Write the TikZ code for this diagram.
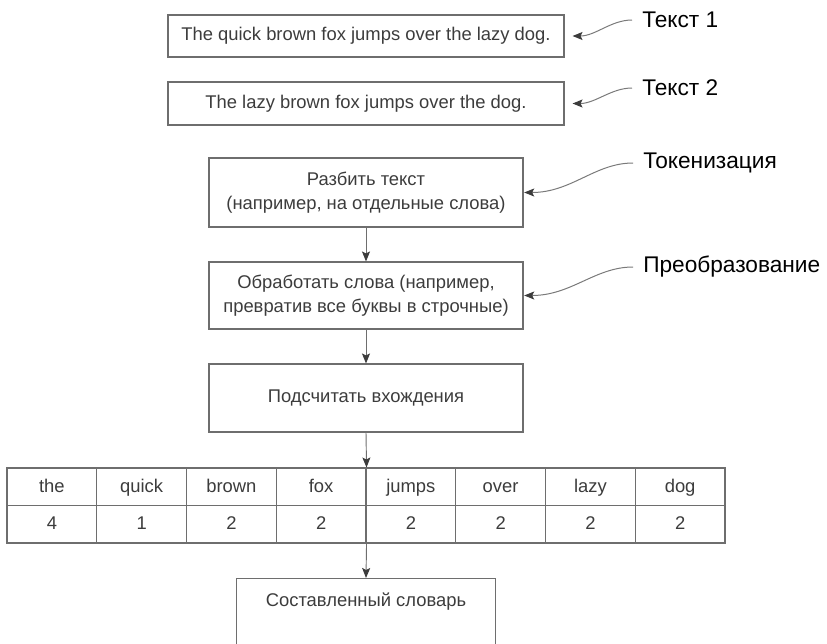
\documentclass[tikz,border=0pt]{standalone}
\usepackage{fontspec}
\setmainfont{Liberation Sans}
\usetikzlibrary{arrows.meta}
\definecolor{edge}{HTML}{6E6E6E}
\definecolor{ink}{HTML}{3C3C3C}
\definecolor{wire}{HTML}{7A7A7A}
\begin{document}
\begin{tikzpicture}[x=0.75pt,y=-0.75pt,
  box/.style={draw=edge, line width=0.8pt, rectangle, inner sep=0pt, text=ink,
    font=\fontsize{13.8}{18}\selectfont, align=center},
  cell/.style={box, minimum width=67.3125pt, minimum height=28.125pt,
    text height=10pt, text depth=1.5pt},
  tag/.style={anchor=west, inner sep=0pt, font=\fontsize{17}{20}\selectfont, text=black},
  tip/.style={-{Stealth[length=7.5pt,width=6pt,inset=1.5pt,color=ink]}},
  flow/.style={draw=edge, line width=0.7pt, tip},
  note/.style={draw=wire, line width=0.75pt, tip},
]
\useasboundingbox (0,0) rectangle (827,643);
\clip (0,0) rectangle (827,643);

% input sentences
\node[box, minimum width=297pt, minimum height=31.5pt] (s1) at (366,36)
  {The quick brown fox jumps over the lazy dog.};
\node[box, minimum width=297pt, minimum height=32.25pt] (s2) at (366,103.5)
  {The lazy brown fox jumps over the dog.};

% processing steps
\node[box, minimum width=235.5pt, minimum height=51.75pt] (split) at (366,192.5)
  {Разбить текст\\(например, на отдельные слова)};
\node[box, minimum width=235.5pt, minimum height=50.25pt] (norm) at (366,295.5)
  {Обработать слова (например,\\превратив все буквы в строчные)};
\node[box, minimum width=235.5pt, minimum height=51pt] (count) at (366,398)
  {Подсчитать вхождения};

% word counts table
\foreach \w [count=\i] in {the,quick,brown,fox,jumps,over,lazy,dog}
  \node[cell] (h\i) at ({366+(\i-4.5)*89.75},486.75) {\w};
\foreach \n [count=\i] in {4,1,2,2,2,2,2,2}
  \node[cell] (v\i) at ({366+(\i-4.5)*89.75},524.25) {\n};

% resulting dictionary
\node[box, minimum width=194.25pt, minimum height=90pt, anchor=north] (dict) at (366,578) {};
\node[text=ink, inner sep=0pt, anchor=base, font=\fontsize{13.8}{18}\selectfont] (dicttext)
  at (366,606) {Составленный словарь};

% flow arrows
\draw[flow] (split.south) -- (norm.north);
\draw[flow] (norm.south) -- (count.north);
\draw[flow] (count.south) -- (h4.north east);
\draw[flow] (v4.south east) -- (dict.north);

% side labels
\node[tag] (t1) at (642,20) {Текст 1};
\node[tag] (t2) at (642,88) {Текст 2};
\node[tag] (tok) at (643,163) {Токенизация};
\node[tag] (tr) at (643,267) {Преобразование};

\draw[note, shorten <=7.5pt, shorten >=6pt] (t1.west) to[out=180,in=0] (s1.east);
\draw[note, shorten <=7.5pt, shorten >=6pt] (t2.west) to[out=180,in=0] (s2.east);
\draw[note, shorten <=7.5pt, shorten >=0.5pt] (tok.west) to[out=180,in=0] (split.east);
\draw[note, shorten <=7.5pt, shorten >=0.5pt] (tr.west) to[out=180,in=0] (norm.east);
\end{tikzpicture}
\end{document}
